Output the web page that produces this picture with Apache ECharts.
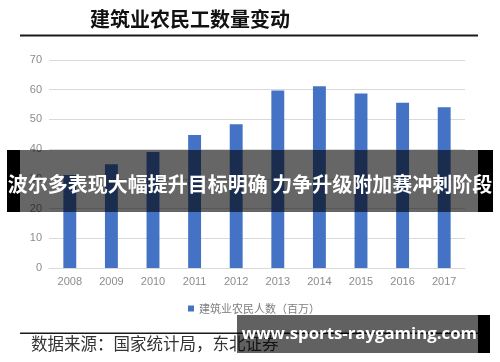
<!DOCTYPE html>
<html><head><meta charset="utf-8">
<script src="https://cdn.jsdelivr.net/npm/echarts@6/dist/echarts.min.js"></script>
<style>html,body{margin:0;padding:0;background:#fff}#c{width:500px;height:362px}</style>
</head><body><div id="c"></div>
<script>
const categories = ['2008','2009','2010','2011','2012','2013','2014','2015','2016','2017'];
const workers = [31.3, 34.9, 39.0, 44.8, 48.4, 59.7, 61.2, 58.7, 55.6, 54.1];
const seriesName = '建筑业农民人数（百万）';
const titleText = '建筑业农民工数量变动';
const bannerText = '波尔多表现大幅提升目标明确 力争升级附加赛冲刺阶段';
const sourceText = '数据来源：国家统计局，东北证券';
const watermark = 'www.sports-raygaming.com';

const chart = echarts.init(document.getElementById('c'), null, {renderer:'canvas'});
const cjk = '"Noto Sans CJK SC", "Noto Sans", sans-serif';
chart.setOption({
  animation:false,
  grid:{left:49, right:35, top:60, bottom:94, containLabel:false},
  xAxis:{type:'category', data:categories,
    axisLine:{show:true, lineStyle:{color:'#d9d9d9'}}, axisTick:{show:false},
    axisLabel:{color:'#8c8c8c', fontSize:11, margin:8, fontFamily:'Liberation Sans, Arial, sans-serif'}},
  yAxis:{type:'value', min:0, max:70, interval:10,
    axisLine:{show:false}, axisTick:{show:false},
    splitLine:{lineStyle:{color:'#d9d9d9'}},
    axisLabel:{color:'#8c8c8c', fontSize:11, margin:7, fontFamily:'Liberation Sans, Arial, sans-serif'}},
  legend:{show:true, data:[seriesName], left:183, top:298, itemWidth:6, itemHeight:6, itemGap:4,
    icon:'rect', textStyle:{color:'#7f7f7f', fontSize:11, fontFamily:cjk}},
  series:[{name:seriesName, type:'bar', data:workers, barWidth:'31%', itemStyle:{color:'#4472c4'}}],
  graphic:[
    {type:'text', left:90, top:9, z:100, style:{text:titleText, fill:'#111', font:'bold 20px "Noto Sans CJK SC"'}},
    {type:'rect', shape:{x:20, y:34.5, width:458, height:2}, z:100, style:{fill:'#1a1a1a'}},
    {type:'rect', shape:{x:20, y:332.5, width:458, height:1.5}, z:100, style:{fill:'#1a1a1a'}},
    {type:'text', left:31, top:335, z:100, style:{text:sourceText, fill:'#333', font:'16.5px "Noto Sans CJK SC"'}},
    {type:'rect', shape:{x:7, y:150, width:13, height:62}, z:110, style:{fill:'#000'}},
    {type:'rect', shape:{x:478, y:150, width:15, height:62}, z:110, style:{fill:'#000'}},
    {type:'rect', shape:{x:20, y:150, width:458, height:62}, z:110, style:{fill:'rgba(0,0,0,0.6)'}},
    {type:'text', x:250, y:184, z:120, style:{text:bannerText, fill:'#fff', align:'center', verticalAlign:'middle', font:'bold 20px "Noto Sans CJK SC"'}},
    {type:'rect', shape:{x:237, y:315, width:241, height:38}, z:110, style:{fill:'rgba(0,0,0,0.62)'}},
    {type:'rect', shape:{x:478, y:315, width:12, height:38}, z:110, style:{fill:'#000'}},
    {type:'text', x:477, y:334, z:120, style:{text:watermark, fill:'#fff', align:'right', verticalAlign:'middle', font:'bold 16.8px "Open Sans", "Noto Sans", sans-serif'}}
  ]
});
</script></body></html>
